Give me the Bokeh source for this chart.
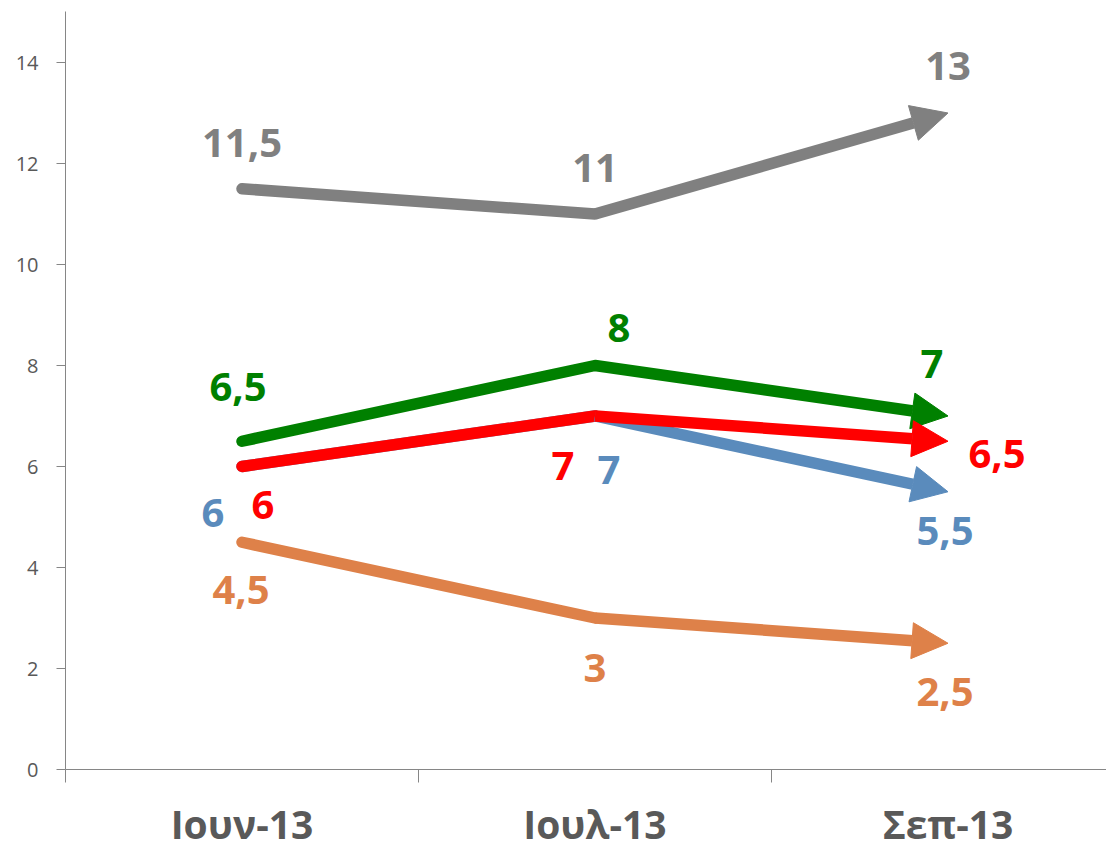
from bokeh.plotting import figure
from bokeh.models import Arrow, NormalHead, FixedTicker, Range1d
from bokeh.core.properties import value
from bokeh.embed import file_html
from bokeh.resources import INLINE

# ---- data ----
categories = ["Ιουν-13", "Ιουλ-13", "Σεπ-13"]
gray_vals = [11.5, 11, 13]
orange_vals = [4.5, 3, 2.5]
blue_vals = [6, 7, 5.5]
green_vals = [6.5, 8, 7]
red_vals = [6, 7, 6.5]
y_ticks = [0, 2, 4, 6, 8, 10, 12, 14]

# ---- styles ----
x_pos = [0.5, 1.5, 2.5]
series = [
    ("gray", gray_vals, "#808080", [(0, -46), (0, -46), (0, -47)]),
    ("orange", orange_vals, "#DE8149", [(-1, 48), (0, 50), (-3, 49)]),
    ("blue", blue_vals, "#5A8BBC", [(-29, 46), (14, 54), (-3, 39)]),
    ("green", green_vals, "#008000", [(-4, -54), (24, -38), (-16, -52)]),
    ("red", red_vals, "#FF0000", [(21, 38), (-32, 50), (49, 13)]),
]
FONT = "Open Sans"
LW = 11.5

p = figure(frame_width=1041, frame_height=758, output_backend="svg", toolbar_location=None,
           x_range=Range1d(0, 2.949), y_range=Range1d(0, 15.01),
           min_border_left=65, min_border_right=0, min_border_top=11, min_border_bottom=81)
p.grid.visible = False
p.outline_line_color = None
p.background_fill_color = "white"
p.border_fill_color = "white"

# x axis
xa = p.xaxis[0]
xa.ticker = FixedTicker(ticks=x_pos, minor_ticks=[0, 1, 2, 3])
xa.major_label_overrides = {x: c for x, c in zip(x_pos, categories)}
xa.major_tick_out = 0
xa.major_tick_in = 0
xa.minor_tick_out = 13
xa.minor_tick_in = 0
xa.minor_tick_line_color = "#868686"
xa.axis_line_color = "#868686"
xa.major_label_text_font = FONT
xa.major_label_text_font_style = "bold"
xa.major_label_text_font_size = "39px"
xa.major_label_text_color = "#595959"
xa.major_label_standoff = 14

# y axis
ya = p.yaxis[0]
ya.ticker = FixedTicker(ticks=y_ticks, minor_ticks=[])
ya.major_tick_out = 9
ya.major_tick_in = 0
ya.major_tick_line_color = "#868686"
ya.axis_line_color = "#868686"
ya.major_label_text_font = FONT
ya.major_label_text_font_size = "20px"
ya.major_label_text_color = "#595959"
ya.major_label_standoff = 18

def fmt(v):
    return f"{v:g}".replace(".", ",")

for name, vals, color, offs in series:
    p.line(x_pos[:2], vals[:2], line_color=color, line_width=LW,
           line_cap="round", line_join="round")
    p.add_layout(Arrow(x_start=x_pos[1], y_start=vals[1], x_end=x_pos[2], y_end=vals[2],
                       line_color=color, line_width=LW,
                       end=NormalHead(size=36, fill_color=color, line_color=color, line_width=1)))

for name, vals, color, offs in series:
    p.text(x=x_pos, y=vals, text=[fmt(v) for v in vals],
           x_offset=[o[0] for o in offs], y_offset=[o[1] for o in offs],
           text_color=color, text_font=value(FONT), text_font_style="bold",
           text_font_size="40px", text_align="center", text_baseline="alphabetic")

open("out.html", "w").write(file_html(p, INLINE))
